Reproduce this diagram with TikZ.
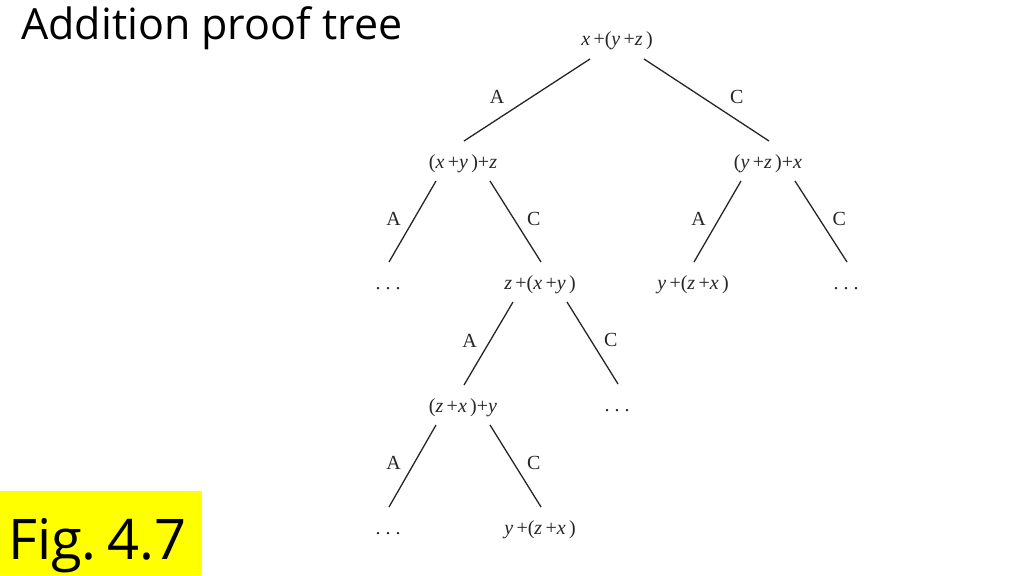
\documentclass[tikz,border=0pt]{standalone}
\usepackage{fontspec}
\setmainfont{Open Sans}
\newfontfamily\treefont{Liberation Serif}
\usepackage{tikz}
\usetikzlibrary{positioning}
\definecolor{figyellow}{HTML}{FFFF00}
\definecolor{ink}{HTML}{262626}
\newcommand{\tv}[1]{\textit{#1}}

\begin{document}
\begin{tikzpicture}[x=1pt,y=-1pt,
  term/.style={anchor=base,font=\treefont\fontsize{20}{20}\selectfont,text=ink,inner sep=0pt},
  lab/.style={font=\treefont\fontsize{20}{20}\selectfont,text=ink,inner sep=1pt,yshift=3pt},
  branch/.style={draw=ink,line width=1.3pt}]
\useasboundingbox (0,0) rectangle (1024,575);
\node[anchor=base west,inner sep=0pt,font=\fontsize{43}{43}\selectfont] (title) at (21,40) {Addition proof tree};
\fill[figyellow] (0,491) rectangle (202,575);
\node[anchor=base west,inner sep=0pt,font=\fontsize{56}{56}\selectfont] (fig) at (8,559) {Fig.\kern11pt4.7};

\node[term] (top) at (617,46) {\tv{x}\,+(\tv{y}\,+\tv{z}\,)};
\node[term] (lft) at (463,168) {(\tv{x}\,+\tv{y}\,)+\tv{z}};
\node[term] (rgt) at (768,168) {(\tv{y}\,+\tv{z}\,)+\tv{x}};
\node[term] (d1) at (388,289) {.\ .\ .};
\node[term] (zxy) at (540,289) {\tv{z}\,+(\tv{x}\,+\tv{y}\,)};
\node[term] (yzx) at (693,289) {\tv{y}\,+(\tv{z}\,+\tv{x}\,)};
\node[term] (d2) at (846,289) {.\ .\ .};
\node[term] (zx) at (463,412) {(\tv{z}\,+\tv{x}\,)+\tv{y}};
\node[term] (d3) at (617,411) {.\ .\ .};
\node[term] (d4) at (388,534) {.\ .\ .};
\node[term] (last) at (540,534) {\tv{y}\,+(\tv{z}\,+\tv{x}\,)};

\foreach \p/\c/\d in {top/lft/21pt,lft/d1/10pt,rgt/yzx/10pt,zxy/zx/10pt,zx/d4/10pt}{
\draw[branch] ([shift={(-27,13)}]\p.base) -- node[lab,left=\d]{A} ([shift={(1,-27)}]\c.base);
}
\foreach \p/\c/\d in {top/rgt/22pt,lft/zxy/10pt,rgt/d2/10pt,zxy/d3/10pt,zx/last/10pt}{
\draw[branch] ([shift={(27,13)}]\p.base) -- node[lab,right=\d]{C} ([shift={(1,-27)}]\c.base);
}
\end{tikzpicture}
\end{document}
